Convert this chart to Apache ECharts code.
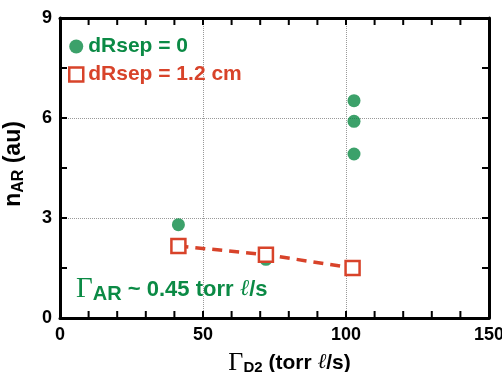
<!DOCTYPE html>
<html>
<head>
<meta charset="utf-8">
<script src="https://cdn.jsdelivr.net/npm/echarts@6/dist/echarts.min.js"></script>
<style>
  html, body { margin: 0; padding: 0; background: #fff; }
  #chart { width: 502px; height: 372px; }
</style>
</head>
<body>
<div id="chart"></div>
<script>
  // data
  const xTicks = [0, 50, 100, 150]
  const yTicks = [0, 3, 6, 9]
  const xTickMarks = [10, 20, 30, 40, 50, 60, 70, 80, 90, 100, 110, 120, 130, 140]
  const yTickMarks = [1.5, 3, 4.5, 6, 7.5]
  const dRsep0X = [41.4, 72, 102.8, 102.8, 102.8]
  const dRsep0Y = [2.8, 1.76, 6.52, 5.9, 4.92]
  const dRsep12X = [41.4, 72, 102.3]
  const dRsep12Y = [2.16, 1.9, 1.5]

  const green = '#0b8a45'
  const red = '#d8432a'
  const font = 'Liberation Sans, Arial, Helvetica, sans-serif'

  const chart = echarts.init(document.getElementById('chart'))

  function boxAxis(pos, ticks, labelled) {
    return {
      type: 'value',
      position: pos,
      min: ticks[0],
      max: ticks[ticks.length - 1],
      interval: ticks[1] - ticks[0],
      axisLine: { show: true, onZero: false, lineStyle: { color: '#000', width: 3 } },
      axisTick: { show: false },
      axisLabel: labelled
        ? { show: true, margin: 8, color: '#000', fontFamily: font, fontWeight: 'bold', fontSize: 18 }
        : { show: false },
      splitLine: labelled
        ? { show: true, lineStyle: { color: '#999', type: 'dotted', width: 1 } }
        : { show: false }
    }
  }

  const xMin = xTicks[0], xMax = xTicks[xTicks.length - 1]
  const yMin = yTicks[0], yMax = yTicks[yTicks.length - 1]

  const xBottom = boxAxis('bottom', xTicks, true)
  xBottom.name = '{g|Γ}{s|D2}{t| (torr }{l|ℓ}{t|/s)}'
  xBottom.nameLocation = 'middle'
  xBottom.nameGap = 32
  xBottom.nameTextStyle = {
    padding: [0, 0, 0, 30],
    rich: {
      g: { fontFamily: 'Liberation Serif, serif', fontSize: 26, color: '#000' },
      s: { fontFamily: font, fontWeight: 'bold', fontSize: 15, color: '#000', padding: [10, 0, 0, 0] },
      t: { fontFamily: font, fontWeight: 'bold', fontSize: 21, color: '#000' },
      l: { fontFamily: 'DejaVu Serif, serif', fontStyle: 'italic', fontSize: 21, color: '#000' }
    }
  }

  const yLeft = boxAxis('left', yTicks, true)
  yLeft.name = '{t|n}{s|AR}{t| (au)}'
  yLeft.nameLocation = 'middle'
  yLeft.nameGap = 33
  yLeft.nameRotate = 90
  yLeft.nameTextStyle = {
    padding: [0, 0, 0, 8],
    rich: {
      t: { fontFamily: font, fontWeight: 'bold', fontSize: 23, color: '#000' },
      s: { fontFamily: font, fontWeight: 'bold', fontSize: 16, color: '#000', padding: [10, 0, 0, 0] }
    }
  }

  const annotation = {
    type: 'text',
    left: 76,
    top: 275,
    style: {
      text: '{g|Γ}{s|AR}{t| ~ 0.45 torr }{l|ℓ}{t|/s}',
      rich: {
        g: { fontFamily: 'Liberation Serif, serif', fontSize: 29, fill: green },
        s: { fontFamily: font, fontWeight: 'bold', fontSize: 20, fill: green, padding: [10, 0, 0, 0] },
        t: { fontFamily: font, fontWeight: 'bold', fontSize: 22, fill: green },
        l: { fontFamily: 'DejaVu Serif, serif', fontStyle: 'italic', fontSize: 23, fill: green }
      }
    }
  }

  const option = {
    animation: false,
    grid: { left: 60, right: 13, top: 18, bottom: 54, outerBoundsMode: 'none' },
    legend: {
      orient: 'vertical',
      left: 63,
      top: 31,
      itemGap: 7,
      itemWidth: 14,
      itemHeight: 14,
      textStyle: { fontFamily: font, fontWeight: 'bold', fontSize: 21 },
      data: [
        { name: 'dRsep = 0', icon: 'circle', textStyle: { color: green } },
        { name: 'dRsep = 1.2 cm', icon: 'rect', itemStyle: { color: '#fff', borderColor: red, borderWidth: 2.5 }, textStyle: { color: red } }
      ]
    },
    xAxis: [xBottom, boxAxis('top', xTicks, false)],
    yAxis: [yLeft, boxAxis('right', yTicks, false)],
    graphic: [annotation],
    series: [
      {
        name: 'dRsep = 0',
        type: 'scatter',
        symbol: 'circle',
        symbolSize: 13,
        itemStyle: { color: green },
        data: dRsep0X.map((x, i) => [x, dRsep0Y[i]])
      },
      {
        name: 'dRsep = 1.2 cm',
        type: 'line',
        symbol: 'rect',
        symbolSize: 14,
        showAllSymbol: true,
        itemStyle: { color: '#fff', borderColor: red, borderWidth: 2.5 },
        lineStyle: { color: red, width: 3.5, type: [10, 7] },
        data: dRsep12X.map((x, i) => [x, dRsep12Y[i]]),
        z: 3
      }
    ]
  }

  chart.setOption(option)

  // inward tick marks on all four sides, placed through the chart's own scales
  const tickLen = 7
  const tickStyle = { stroke: '#000', lineWidth: 2 }
  const ticks = []
  xTickMarks.forEach(v => {
    const b = chart.convertToPixel({ gridIndex: 0 }, [v, yMin])
    const t = chart.convertToPixel({ gridIndex: 0 }, [v, yMax])
    ticks.push({ type: 'line', shape: { x1: b[0], y1: b[1], x2: b[0], y2: b[1] - tickLen }, style: tickStyle, z: 10 })
    ticks.push({ type: 'line', shape: { x1: t[0], y1: t[1], x2: t[0], y2: t[1] + tickLen }, style: tickStyle, z: 10 })
  })
  yTickMarks.forEach(v => {
    const l = chart.convertToPixel({ gridIndex: 0 }, [xMin, v])
    const r = chart.convertToPixel({ gridIndex: 0 }, [xMax, v])
    ticks.push({ type: 'line', shape: { x1: l[0], y1: l[1], x2: l[0] + tickLen, y2: l[1] }, style: tickStyle, z: 10 })
    ticks.push({ type: 'line', shape: { x1: r[0], y1: r[1], x2: r[0] - tickLen, y2: r[1] }, style: tickStyle, z: 10 })
  })
  chart.setOption({ graphic: [annotation].concat(ticks) }, { replaceMerge: ['graphic'] })
</script>
</body>
</html>
